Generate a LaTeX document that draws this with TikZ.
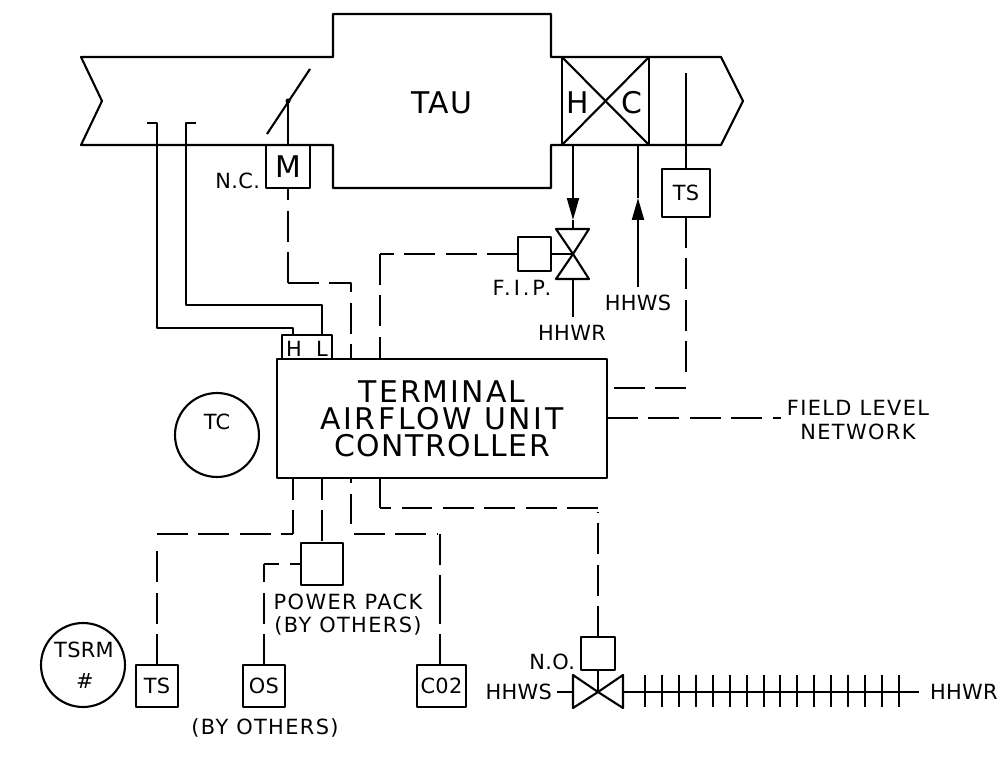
\documentclass[tikz,border=0pt]{standalone}
\usepackage{fontspec}
\setmainfont{DejaVu Sans}
\usetikzlibrary{arrows.meta}
\tikzset{
  lbl/.style={inner sep=0pt,align=center,font=\fontsize{11.9}{13.2}\selectfont\addfontfeature{LetterSpace=1.5}},
  widelbl/.style={inner sep=0pt,align=center,font=\fontsize{11.9}{13.2}\selectfont\addfontfeature{LetterSpace=6.5}},
  biglbl/.style={inner sep=0pt,align=center,font=\fontsize{17}{15.3}\selectfont\addfontfeature{LetterSpace=4}},
  devbox/.style 2 args={draw,inner sep=0pt,outer sep=0pt,minimum width=#1*0.02cm,minimum height=#2*0.02cm,
    font=\fontsize{11.9}{13.2}\selectfont\addfontfeature{LetterSpace=1.5}},
  ctrlline/.style={dash pattern=on 17.6pt off 5.95pt},
  roundnode/.style={draw,circle,inner sep=0pt,outer sep=0pt,minimum size=1.68cm},
  flowtip/.style={-{Triangle[length=12.5pt,width=6.8pt]}}
}
\begin{document}
\begin{tikzpicture}[x=0.02cm,y=-0.02cm,line width=1.2pt,line join=round]
    \useasboundingbox (0,0) rectangle (1002,770);

    % duct and unit casing
    \draw
      (81,57) -- (333,57) -- (333,14) -- (551,14) -- (551,57) -- (721,57) -- (743,101) -- (721,145)
      -- (551,145) -- (551,188) -- (333,188) -- (333,145) -- (81,145) -- (102,101) -- cycle;

    % coils
    \draw (562,57) rectangle (649,145);
    \draw (562,57) -- (649,145);
    \draw (562,145) -- (649,57);
    \node[font=\fontsize{17}{20}\selectfont] (heat) at (578,103) {H};
    \node[font=\fontsize{17}{20}\selectfont] (cool) at (632,103) {C};
    \node[biglbl] (tau) at (442,103) {TAU};

    % damper and actuator
    \node[devbox={44}{43},font=\fontsize{17}{20}\selectfont] (mbox) at (288,166.5) {M};
    \coordinate (dmppivot) at (288,101);
    \draw (267,134) -- (310,69);
    \fill (dmppivot) circle (2.5);
    \draw (dmppivot) -- (mbox.north);
    \node[lbl,anchor=east] (nc) at (261,181) {N.C.};

    % controller
    \node[draw,inner sep=0pt,outer sep=0pt,minimum width=6.6cm,minimum height=2.38cm] (tcu) at (442,418.5) {};
    \node[biglbl] (tcutext) at (442,419)
      {{\addfontfeature{LetterSpace=7}TERMINAL}\\{\addfontfeature{LetterSpace=9}AIRFLOW UNIT}\\{\addfontfeature{LetterSpace=5}CONTROLLER}};
    \node[devbox={50}{24}] (hlbox) at (307,347) {};
    \node[lbl] (hport) at (294,349) {H};
    \node[lbl] (lport) at (322,349) {L};
    \node[roundnode] (tc) at (217,435) {};
    \node[lbl] (tctext) at (217,421.5) {TC};
    \node[roundnode] (tsrm) at (83,665) {};
    \node[lbl] (tsrmtext) at (84,650) {TSRM};
    \node[lbl] (tsrmnum) at (85,681) {\#};

    % pressure tubes
    \coordinate (tubehi) at (293,335);
    \coordinate (tubelo) at (322,335);
    \draw (147,123) -- (157,123) -- (157,328) -- (293,328) -- (tubehi);
    \draw (196,123) -- (186,123) -- (186,305) -- (322,305) -- (tubelo);

    % damper signal
    \coordinate (dmpbend) at (288,283);
    \coordinate (dmpin) at (351,359);
    \draw[ctrlline] (dmpbend) -- (mbox.south);
    \draw[ctrlline] (dmpbend) -- (351,283) -- (dmpin);

    % heating valve
    \node[devbox={33}{34}] (fip) at (534.5,254) {};
    \coordinate (fipvalve) at (573,254);
    \coordinate (fipbend) at (380,254);
    \coordinate (fipin) at (380,359);
    \draw[ctrlline] (fip.west) -- (fipbend);
    \draw[ctrlline] (fipbend) -- (fipin);
    \draw (fip.east) -- (fipvalve);
    \draw (fipvalve) -- (556,229) -- (589,229) -- cycle;
    \draw (fipvalve) -- (556,279) -- (589,279) -- cycle;
    \node[lbl,font=\fontsize{11.9}{13.2}\selectfont\addfontfeature{LetterSpace=14}] (fiptext) at (522,288) {F.I.P.};

    % hot water pipes
    \coordinate (retcoil) at (573,145);
    \coordinate (rettip) at (573,220);
    \coordinate (suptip) at (638,198);
    \coordinate (supend) at (638,287);
    \draw[flowtip] (retcoil) -- (rettip);
    \draw (rettip) -- (573,229);
    \draw (573,279) -- (573,317);
    \draw[flowtip] (supend) -- (suptip);
    \draw (suptip) -- (638,145);
    \node[lbl] (hhwrtop) at (572,333) {HHWR};
    \node[lbl] (hhwstop) at (638,303) {HHWS};

    % discharge sensor
    \node[devbox={48}{48}] (tsduct) at (686,193) {TS};
    \coordinate (tsbend) at (686,388);
    \coordinate (tsin) at (607,388);
    \draw (686,73) -- (tsduct.north);
    \draw[ctrlline] (tsduct.south) -- (686,376);
    \draw[ctrlline] (tsbend) -- (tsin);

    % network
    \coordinate (netend) at (781,418);
    \draw[ctrlline] (607,418) -- (netend);
    \node[widelbl] (nettext) at (858,420) {FIELD LEVEL\\NETWORK};

    % room devices
    \node[devbox={42}{42}] (tsroom) at (157,686) {TS};
    \node[devbox={42}{42}] (osbox) at (264,686) {OS};
    \node[devbox={49}{42}] (cobox) at (441.5,686) {C02};
    \node[devbox={42}{42}] (power) at (322,564) {};
    \node[widelbl] (powertext) at (348,615) {POWER PACK\\(BY OTHERS)};
    \node[widelbl] (bothers) at (265,728) {(BY OTHERS)};

    \coordinate (tsrbend) at (157,534);
    \coordinate (tsrjoin) at (293,534);
    \draw[ctrlline,dash phase=5.1pt] (293,478) -- (tsrjoin);
    \draw[ctrlline] (tsrbend) -- (tsrjoin);
    \draw[ctrlline] (tsroom.north) -- (157,541);

    \draw[ctrlline,dash phase=5.1pt] (322,478) -- (power.north);

    \coordinate (osbend) at (264,564);
    \draw[ctrlline,dash phase=11.3pt] (power.west) -- (osbend);
    \draw[ctrlline] (osbox.north) -- (osbend);

    \coordinate (cojoin) at (351,534);
    \coordinate (cobend) at (440,534);
    \draw[ctrlline,dash phase=14.7pt] (351,478) -- (cojoin);
    \draw[ctrlline,dash phase=21.8pt] (cojoin) -- (437,534);
    \draw[ctrlline] (cobend) -- (440,607);
    \draw[ctrlline] (440,665) -- (440,592);

    % reheat valve
    \node[devbox={34}{33}] (novalve) at (598,653.5) {};
    \coordinate (rhvalve) at (598,692);
    \coordinate (rhbend) at (598,508);
    \coordinate (rhjoin) at (380,508);
    \draw (380,478) -- (rhjoin);
    \draw[ctrlline] (rhbend) -- (rhjoin);
    \draw[ctrlline] (novalve.north) -- (598,512);
    \draw (novalve.south) -- (rhvalve);
    \draw (rhvalve) -- (573,675) -- (573,708) -- cycle;
    \draw (rhvalve) -- (623,675) -- (623,708) -- cycle;
    \draw (557,692) -- (573,692);
    \draw (623,692) -- (919,692);
    \foreach \i in {0,...,15}
      \draw ({round(645+\i*16.93)},675) -- ++(0,32);
    \node[lbl,anchor=east] (hhwsbot) at (553,692) {HHWS};
    \node[lbl,anchor=west] (hhwrbot) at (929,692) {HHWR};
    \node[lbl,anchor=east] (notext) at (576,662) {N.O.};
\end{tikzpicture}
\end{document}
